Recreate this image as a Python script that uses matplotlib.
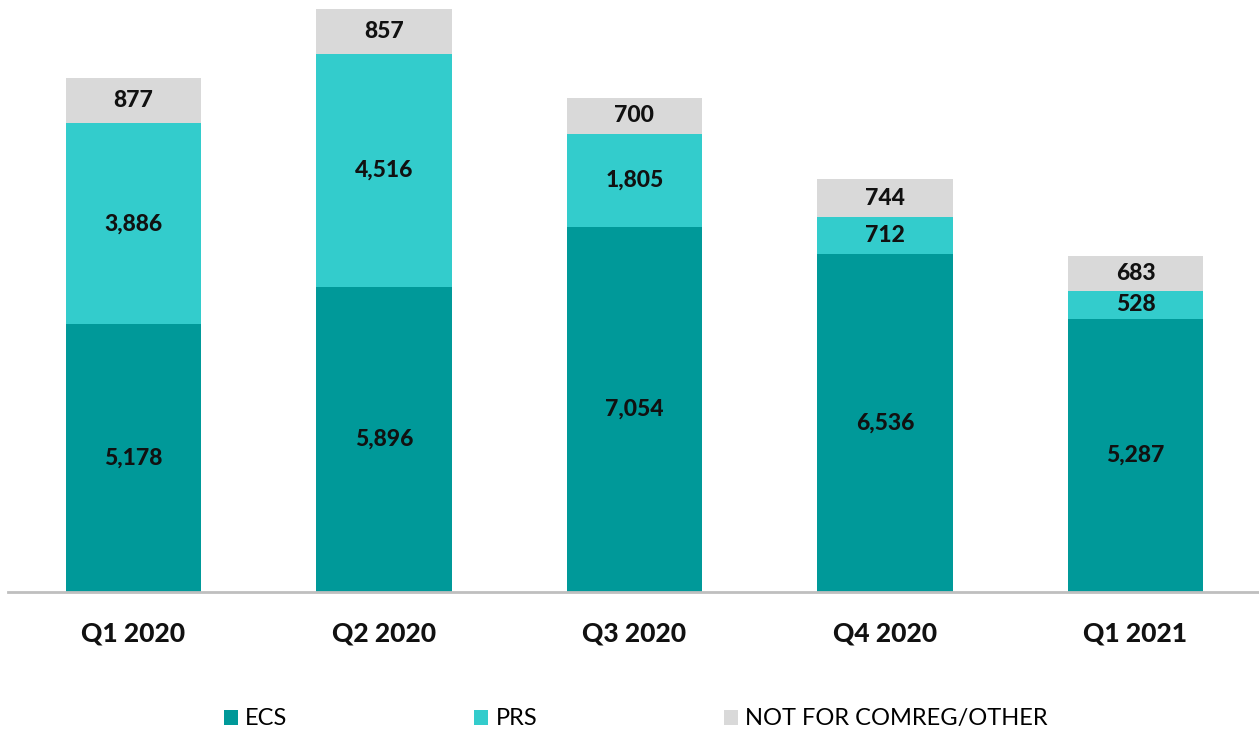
import matplotlib.pyplot as plt
import numpy as np

plt.rcParams['font.family'] = ['Lato', 'DejaVu Sans']

quarters = ['Q1 2020', 'Q2 2020', 'Q3 2020', 'Q4 2020', 'Q1 2021']
ecs = [5178, 5896, 7054, 6536, 5287]
prs = [3886, 4516, 1805, 712, 528]
other = [877, 857, 700, 744, 683]

series = [('ECS', ecs, '#009999'),
          ('PRS', prs, '#33CCCC'),
          ('NOT FOR COMREG/OTHER', other, '#D9D9D9')]

fig = plt.figure(figsize=(12.59, 7.36), dpi=100)
ax = fig.add_axes([0.0064, 0.1957, 0.993, 0.8043])

x = np.arange(len(quarters))
bottom = np.zeros(len(quarters))
for name, vals, color in series:
    vals = np.array(vals)
    ax.bar(x, vals, 0.54, bottom=bottom, color=color, label=name)
    for xi, b, v in zip(x, bottom, vals):
        ax.text(xi, b + v / 2, f'{v:,}', ha='center', va='center',
                fontsize=16.5, fontweight=900, color='#111111')
    bottom += vals

ax.set_xlim(-0.5, 4.49)
ax.set_ylim(0, 11450)
ax.set_yticks([])
ax.set_xticks(x)
ax.set_xticklabels(quarters, fontsize=19, fontweight=900, color='#111111')
ax.tick_params(axis='x', length=0, pad=21)
for s in ['top', 'right', 'left']:
    ax.spines[s].set_visible(False)
ax.spines['bottom'].set_color('#BFBFBF')
ax.spines['bottom'].set_linewidth(2)

# legend along the bottom, spread out like the original
leg = fig.legend(loc='lower center', bbox_to_anchor=(0.505, -0.02), ncol=3,
                 frameon=False, fontsize=17, handlelength=0.6, handleheight=0.6,
                 columnspacing=7.9, handletextpad=0.3)

fig.savefig('out.png', dpi=100)
